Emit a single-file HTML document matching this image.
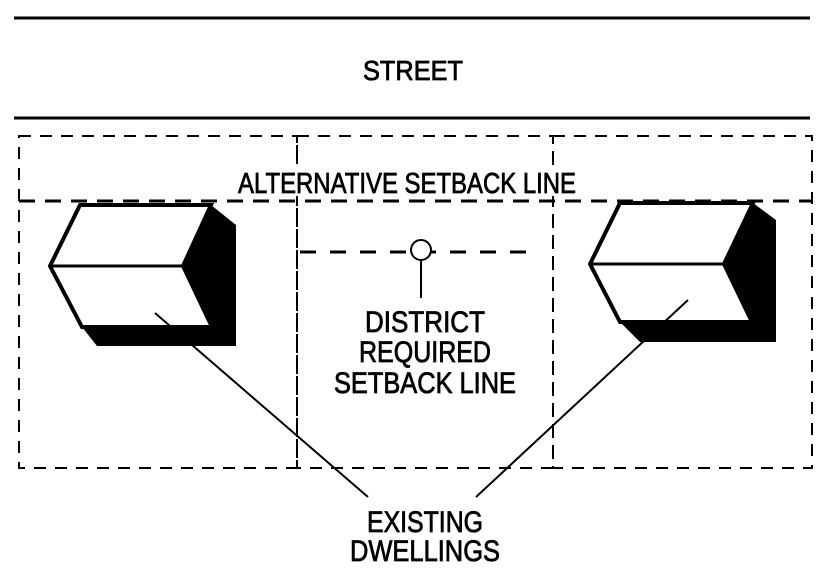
<!DOCTYPE html>
<html><head><meta charset="utf-8"><style>html,body{margin:0;padding:0;background:#fff}svg{display:block}</style></head>
<body>
<svg width="830" height="580" viewBox="0 0 830 580" xmlns="http://www.w3.org/2000/svg" font-family="Liberation Sans, sans-serif" fill="#000">
<line x1="14" y1="18" x2="810" y2="18" stroke="#000" stroke-width="3"/>
<line x1="14" y1="118" x2="810" y2="118" stroke="#000" stroke-width="3"/>
<g stroke="#000" stroke-width="0.8">
<text x="363" y="80" font-size="28" textLength="100" lengthAdjust="spacingAndGlyphs">STREET</text>
</g>
<g fill="none" stroke="#000" stroke-width="2" stroke-dasharray="12,9">
<rect x="19" y="136" width="278" height="332"/>
<rect x="297" y="136" width="256" height="332"/>
<rect x="553" y="136" width="259" height="332"/>
</g>
<line x1="19" y1="201" x2="812" y2="201" stroke="#000" stroke-width="3" stroke-dasharray="16,10"/>
<line x1="300" y1="252" x2="540" y2="252" stroke="#000" stroke-width="3" stroke-dasharray="16,14"/>
<rect x="236" y="166" width="340" height="30" fill="#fff"/>
<circle cx="421" cy="250" r="10" fill="#fff" stroke="#000" stroke-width="2"/>
<line x1="421" y1="260" x2="421" y2="298" stroke="#000" stroke-width="2"/>
<g stroke="#000" stroke-width="0.8">
<text x="238" y="193" font-size="29" textLength="338" lengthAdjust="spacingAndGlyphs">ALTERNATIVE SETBACK LINE</text>
<g font-size="30" text-anchor="middle">
<text x="425" y="332" textLength="120" lengthAdjust="spacingAndGlyphs">DISTRICT</text>
<text x="425" y="362" textLength="132" lengthAdjust="spacingAndGlyphs">REQUIRED</text>
<text x="425" y="393" textLength="182" lengthAdjust="spacingAndGlyphs">SETBACK LINE</text>
<text x="425" y="532" textLength="116" lengthAdjust="spacingAndGlyphs">EXISTING</text>
<text x="425" y="561" textLength="150" lengthAdjust="spacingAndGlyphs">DWELLINGS</text>
</g>
</g>
<polygon points="211,205 236,225 236,346 97,346 82,327 212,327 183,266" fill="#000"/>
<polygon points="80,205 211,205 183,266 212,327 82,327 50,266" fill="#fff" stroke="#000" stroke-width="4"/>
<line x1="50" y1="266" x2="183" y2="266" stroke="#000" stroke-width="3"/>
<polygon points="753,203 776,220 776,342 640,342 620,322 752,322 724,264" fill="#000"/>
<polygon points="620,203 753,203 724,264 752,322 620,322 590,264" fill="#fff" stroke="#000" stroke-width="4"/>
<line x1="590" y1="264" x2="724" y2="264" stroke="#000" stroke-width="3"/>
<line x1="155" y1="313" x2="368" y2="497" stroke="#000" stroke-width="2"/>
<line x1="688" y1="300" x2="476" y2="497" stroke="#000" stroke-width="2"/>
</svg>
</body></html>
